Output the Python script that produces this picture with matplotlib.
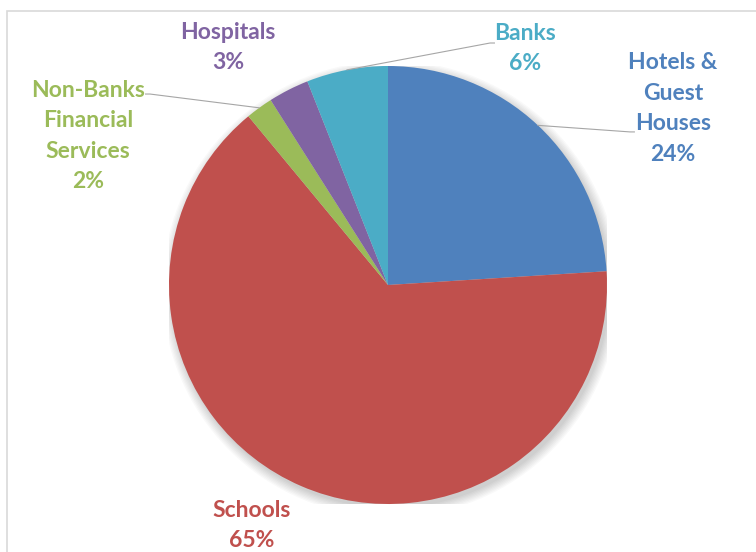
import matplotlib.pyplot as plt
from matplotlib.patches import Circle, Rectangle
import numpy as np

categories = ["Hotels &\nGuest\nHouses", "Schools", "Non-Banks\nFinancial\nServices", "Hospitals", "Banks"]
shares = [24, 65, 2, 3, 6]
colors = ["#4F81BD", "#C0504D", "#9BBB59", "#8064A2", "#4BACC6"]

# label block centres and leader-line end points, in pie units (radius = 1)
label_pos = [(1.301, 0.806), (-0.621, -1.098), (-1.370, 0.680), (-0.731, 1.085), (0.626, 1.080)]
leader_end = [(1.105, 0.699), None, (-1.087, 0.872), None, (0.466, 1.105)]

plt.rcParams['font.family'] = ['Lato', 'DejaVu Sans']

W, H = 756, 552
fig = plt.figure(figsize=(W / 100, H / 100), dpi=100)

# light chart-area frame running off the right and bottom edges
fig.patches.append(Rectangle((7 / W, -0.1), 1.2, (H - 11) / H + 0.1,
                             transform=fig.transFigure, fill=False,
                             edgecolor="#D9D9D9", lw=1.2))

cx, cy, r = 388, 285, 219
ax = fig.add_axes([(cx - r) / W, (H - cy - r) / H, 2 * r / W, 2 * r / H])
ax.axis("off")

# soft drop shadow under the pie
for k in range(8):
    ax.add_patch(Circle((0.012, -0.018), 1.0 + 0.006 * k, color="black",
                        alpha=0.025, lw=0, zorder=0))

wedges, _ = ax.pie(shares, colors=colors, startangle=90, counterclock=False,
                   radius=1.0, wedgeprops=dict(linewidth=0), frame=False)
ax.set_xlim(-1, 1)
ax.set_ylim(-1, 1)
ax.set_aspect("equal")

for w, name, pct, col, (lx, ly), end in zip(wedges, categories, shares, colors, label_pos, leader_end):
    ax.text(lx, ly, f"{name}\n{pct}%", ha="center", va="center", color=col,
            fontsize=16.5, fontweight="bold", linespacing=1.55, clip_on=False)
    if end is not None:
        mid = np.deg2rad((w.theta1 + w.theta2) / 2)
        sx, sy = np.cos(mid), np.sin(mid)
        tail = 0.02 if end[0] > 0 else -0.02
        ax.plot([sx, end[0], end[0] + tail], [sy, end[1], end[1]],
                color="#A6A6A6", lw=0.8, clip_on=False, zorder=1)

fig.savefig("out.png", dpi=100)
